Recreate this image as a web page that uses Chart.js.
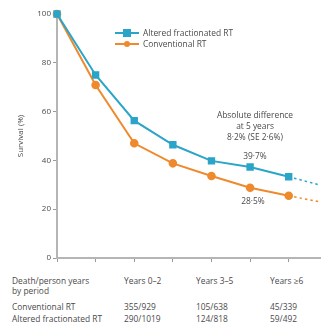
<!DOCTYPE html>
<html>
<head>
<meta charset="utf-8">
<script src="https://cdn.jsdelivr.net/npm/chart.js@4"></script>
<style>
  body { margin: 0; background: #fff; font-family: "Open Sans", sans-serif; color: #4a4a4a; }
  #wrap { position: relative; width: 326px; height: 327px; overflow: hidden; }
  #chart { position: absolute; left: 0; top: 0; }
  .t { position: absolute; font-size: 8.4px; line-height: 10px; white-space: nowrap; }
  .c { text-align: center; transform: translateX(-50%); }
  .key { position: absolute; width: 24px; height: 2px; }
  .key i { position: absolute; }
</style>
</head>
<body>
<div id="wrap">
  <canvas id="chart" width="326" height="266"></canvas>

  <div class="key" style="left:115px;top:32px;background:#2aa5c9"><i style="background:#2aa5c9;top:-3px;left:8px;width:8px;height:8px"></i></div>
  <div class="key" style="left:115px;top:43px;background:#ee8a2d"><i style="background:#ee8a2d;border-radius:50%;top:-2px;left:9px;width:6px;height:6px"></i></div>
  <div class="t" style="left:143px;top:28px">Altered fractionated RT</div>
  <div class="t" style="left:143px;top:39px">Conventional RT</div>

  <div class="t c" style="left:255px;top:110px">Absolute difference</div>
  <div class="t c" style="left:255px;top:121px">at 5 years</div>
  <div class="t c" style="left:255px;top:132px">8·2% (SE 2·6%)</div>
  <div class="t c" style="left:255px;top:151px">39·7%</div>
  <div class="t c" style="left:253px;top:196px">28·5%</div>

  <div class="t" style="left:12px;top:276px">Death/person years</div>
  <div class="t" style="left:12px;top:286px">by period</div>
  <div class="t" style="left:12px;top:302px">Conventional RT</div>
  <div class="t" style="left:12px;top:314px">Altered fractionated RT</div>
  <div id="table"></div>
</div>
<script>
const years = [0, 1, 2, 3, 4, 5, 6];
const altered = [100, 75, 56.3, 46.4, 39.8, 37.3, 33.3];
const conventional = [100, 70.9, 47, 38.8, 33.6, 28.8, 25.5];
// dashed continuation beyond year 6
const extYears = [6, 6.81];
const alteredExt = [33.3, 29.9];
const conventionalExt = [25.5, 23];
const yTicks = [0, 20, 40, 60, 80, 100];

const periods = ['Years 0–2', 'Years 3–5', 'Years ≥6'];
const convDeaths = ['355/929', '105/638', '45/339'];
const altDeaths = ['290/1019', '124/818', '59/492'];

const BLUE = '#2aa5c9';
const ORANGE = '#ee8a2d';

// table under the chart
const colX = [124, 196, 270];
let html = '';
periods.forEach((p, i) => {
  html += `<div class="t" style="left:${colX[i]}px;top:276px">${p}</div>`;
  html += `<div class="t" style="left:${colX[i]}px;top:302px">${convDeaths[i]}</div>`;
  html += `<div class="t" style="left:${colX[i]}px;top:314px">${altDeaths[i]}</div>`;
});
document.getElementById('table').innerHTML = html;

const pts = (xs, ys) => xs.map((x, i) => ({ x: x, y: ys[i] }));

const ctx = document.getElementById('chart');
new Chart(ctx, {
  type: 'line',
  data: {
    datasets: [
      {
        data: pts(extYears, conventionalExt),
        borderColor: ORANGE, borderWidth: 1.5, borderDash: [2.5, 3],
        pointRadius: 0, fill: false
      },
      {
        data: pts(extYears, alteredExt),
        borderColor: BLUE, borderWidth: 1.5, borderDash: [2.5, 3],
        pointRadius: 0, fill: false
      },
      {
        label: 'Altered fractionated RT',
        data: pts(years, altered),
        borderColor: BLUE, backgroundColor: BLUE, borderWidth: 2,
        pointStyle: 'rect', pointRadius: 3.8, fill: false
      },
      {
        label: 'Conventional RT',
        data: pts(years, conventional),
        borderColor: ORANGE, backgroundColor: ORANGE, borderWidth: 2,
        pointStyle: 'circle', pointRadius: 3.3, fill: false
      }
    ]
  },
  options: {
    responsive: false,
    animation: false,
    clip: false,
    layout: { padding: { top: 14, right: 0, left: 16, bottom: 0 } },
    plugins: { legend: { display: false }, tooltip: { enabled: false } },
    scales: {
      x: {
        type: 'linear', min: 0, max: 6.81,
        afterBuildTicks: s => { s.ticks = years.map(v => ({ value: v })); },
        ticks: { callback: () => '', padding: 0 },
        grid: { drawOnChartArea: false, tickLength: 4, color: '#999' },
        border: { color: '#b5b5b5', width: 2 },
        afterFit: s => { s.height = 8; }
      },
      y: {
        min: 0, max: 100,
        afterBuildTicks: s => { s.ticks = yTicks.map(v => ({ value: v })); },
        ticks: { color: '#4a4a4a', font: { family: 'Open Sans', size: 8 }, padding: 2 },
        grid: { drawOnChartArea: false, tickLength: 4, color: '#999' },
        border: { color: '#b5b5b5', width: 2 },
        title: { display: true, text: 'Survival (%)', color: '#4a4a4a', font: { family: 'Open Sans', size: 8 }, padding: 0 },
        afterFit: s => { s.width = 41; }
      }
    }
  }
});
</script>
</body>
</html>
